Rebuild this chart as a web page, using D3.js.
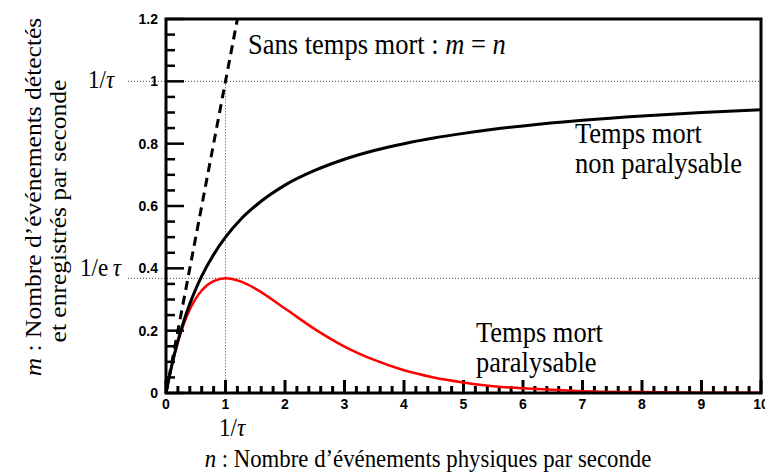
<!DOCTYPE html>
<html><head><meta charset="utf-8">
<script src="https://cdn.jsdelivr.net/npm/d3@7"></script>
<style>body{margin:0;background:#fff}svg{display:block}</style>
</head><body>
<svg id="c" width="765" height="476"></svg>
<script>
// Data
const nValues = [0,0.1,0.2,0.3,0.4,0.5,0.6,0.8,1,1.25,1.5,2,2.5,3,3.5,4,4.5,5,5.5,6,7,8,9,10];
const nonParalysable = [0,0.091,0.167,0.231,0.286,0.333,0.375,0.444,0.5,0.556,0.6,0.667,0.714,0.75,0.778,0.8,0.818,0.833,0.846,0.857,0.875,0.889,0.9,0.909];
const paralysable = [0,0.09,0.164,0.222,0.268,0.303,0.329,0.359,0.368,0.358,0.335,0.271,0.205,0.149,0.106,0.073,0.05,0.034,0.022,0.015,0.006,0.003,0.001,0.0005];
const noDeadTimeN = [0,1.2];
const noDeadTimeM = [0,1.2];
const xTickLabels = ["0","1","2","3","4","5","6","7","8","9","10"];
const yTickLabels = ["0","0.2","0.4","0.6","0.8","1","1.2"];
const refOne = 1;
const refOneOverE = 0.368;

const svg = d3.select("#c");
const L=166, R=761, T=19, B=393;
const x = d3.scaleLinear().domain([0,10]).range([L,R]);
const y = d3.scaleLinear().domain([0,1.2]).range([B,T]);
const serif = "'Liberation Serif','Times New Roman',serif";
const sans = "'Liberation Sans',Arial,sans-serif";
const SY = 1.12; // vertical stretch of the lettering

// dotted reference lines
const dot = svg.append("g").attr("stroke","#444").attr("stroke-width",1).attr("stroke-dasharray","1,2");
dot.append("line").attr("x1",128).attr("x2",R).attr("y1",y(refOne)).attr("y2",y(refOne));
dot.append("line").attr("x1",128).attr("x2",R).attr("y1",y(refOneOverE)).attr("y2",y(refOneOverE));
dot.append("line").attr("x1",x(1)).attr("x2",x(1)).attr("y1",y(refOne)).attr("y2",B);

// ticks
const xMinor = d3.range(0,10.001,0.2);
svg.append("g").selectAll("line").data(xMinor).join("line")
  .attr("x1",d=>x(d)).attr("x2",d=>x(d))
  .attr("y1",B).attr("y2",d=>Math.abs(d-Math.round(d))<1e-6 ? B-13 : B-7)
  .attr("stroke","#000").attr("stroke-width",3);
const yMinor = d3.range(0,1.2001,0.05);
svg.append("g").selectAll("line").data(yMinor).join("line")
  .attr("y1",d=>y(d)).attr("y2",d=>y(d))
  .attr("x1",L).attr("x2",d=>Math.abs(d/0.2-Math.round(d/0.2))<1e-6 ? L+18 : L+9)
  .attr("stroke","#000").attr("stroke-width",2.5);

// tick labels
svg.append("g").selectAll("text").data(xTickLabels).join("text")
  .attr("x",d=>x(+d)).attr("y",B+16).attr("text-anchor","middle")
  .attr("font-family",sans).attr("font-weight","bold").attr("font-size",14).text(d=>d);
svg.append("g").selectAll("text").data(yTickLabels).join("text")
  .attr("x",L-8).attr("y",d=>y(+d)).attr("dy","0.36em").attr("text-anchor","end")
  .attr("font-family",sans).attr("font-weight","bold").attr("font-size",14).text(d=>d);

// curves
const line = d3.line().x(d=>x(d[0])).y(d=>y(d[1])).curve(d3.curveMonotoneX);
svg.append("path").datum(nValues.map((n,i)=>[n,paralysable[i]])).attr("d",line)
  .attr("fill","none").attr("stroke","#ff0000").attr("stroke-width",2.5);
svg.append("path").datum(nValues.map((n,i)=>[n,nonParalysable[i]])).attr("d",line)
  .attr("fill","none").attr("stroke","#000").attr("stroke-width",3);
svg.append("path").datum(noDeadTimeN.map((n,i)=>[n,noDeadTimeM[i]])).attr("d",d3.line().x(d=>x(d[0])).y(d=>y(d[1])))
  .attr("fill","none").attr("stroke","#000").attr("stroke-width",3).attr("stroke-dasharray","9,6");

// frame
svg.append("rect").attr("x",L).attr("y",T).attr("width",R-L).attr("height",B-T)
  .attr("fill","none").attr("stroke","#000").attr("stroke-width",3);

// annotations (vertically stretched serif lettering)
const txt = (xx,yy,size,anchor)=>svg.append("g").attr("transform",`translate(${xx},${yy}) scale(1,${SY})`)
  .append("text").attr("x",0).attr("y",0).attr("font-family",serif)
  .attr("font-size",size).attr("text-anchor",anchor||"start");
let t = txt(248,54,26.5);
t.append("tspan").text("Sans temps mort : ");
t.append("tspan").attr("font-style","italic").text("m");
t.append("tspan").text(" = ");
t.append("tspan").attr("font-style","italic").text("n");
txt(575,143,26.5).text("Temps mort");
txt(575,173,26.5).text("non paralysable");
txt(476,342,26.5).text("Temps mort");
txt(476,372,26.5).text("paralysable");

function tauLabel(xx,yy,pre){
  const g = txt(xx,yy,23);
  g.append("tspan").text(pre);
  g.append("tspan").attr("font-style","italic").text("τ");
  return g;
}
tauLabel(88,88,"1/");
tauLabel(80,276,"1/e\u2009");
tauLabel(219,436,"1/");

// axis titles
let xt = txt(428,467,22.8,"middle");
xt.append("tspan").attr("font-style","italic").text("n");
xt.append("tspan").text(" : Nombre d’événements physiques par seconde");

let yt1 = svg.append("text").attr("transform",`translate(41,197) scale(1,${SY}) rotate(-90)`).attr("text-anchor","middle")
  .attr("font-family",serif).attr("font-size",22.8);
yt1.append("tspan").attr("font-style","italic").text("m");
yt1.append("tspan").text(" : Nombre d’événements détectés");
svg.append("text").attr("transform",`translate(66,211) scale(1,${SY}) rotate(-90)`).attr("text-anchor","middle")
  .attr("font-family",serif).attr("font-size",22.8).text("et enregistrés par seconde");
</script>
</body></html>
